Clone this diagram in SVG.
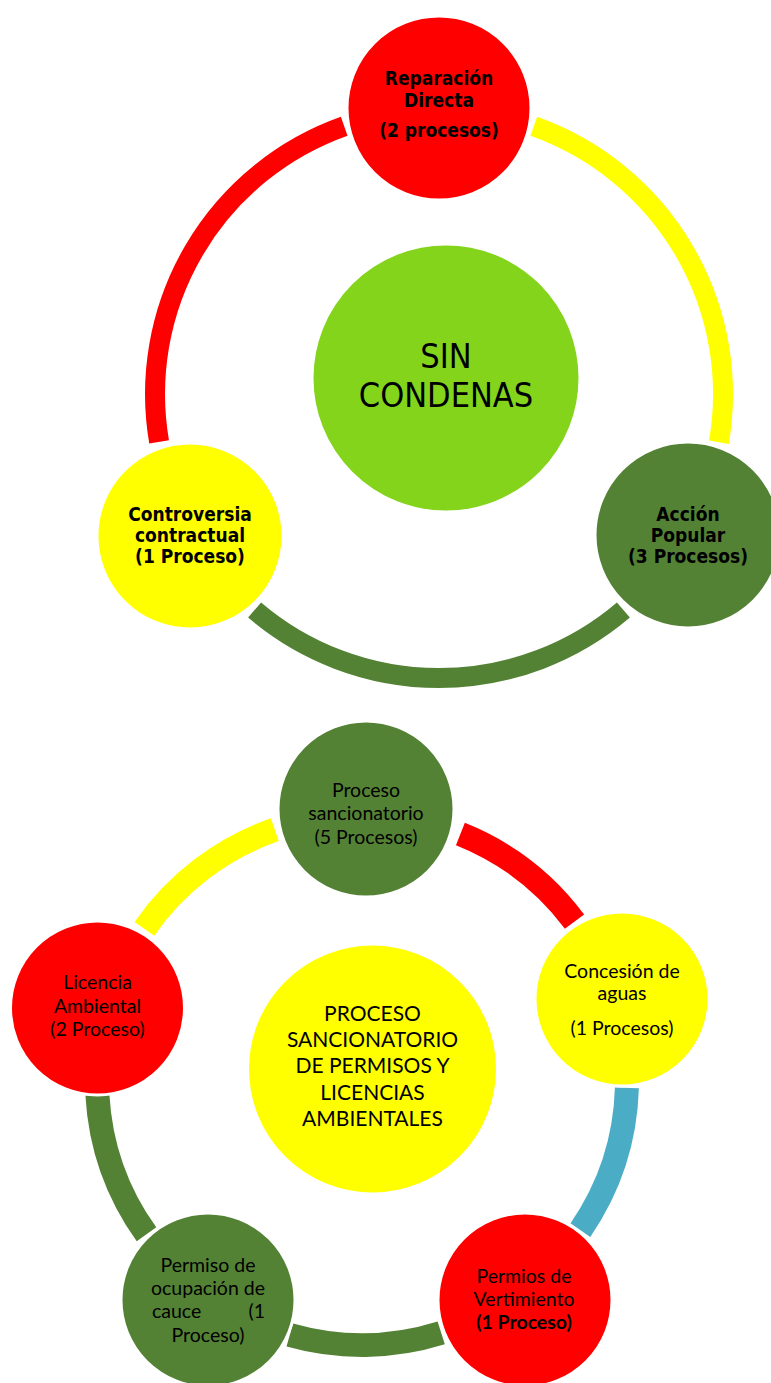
<svg xmlns="http://www.w3.org/2000/svg" width="771" height="1383" viewBox="0 0 771 1383">
<style>
.arc{fill:none;stroke-linecap:butt}
.t1{font-family:"DejaVu Sans Condensed","DejaVu Sans",sans-serif;font-stretch:condensed;font-weight:bold;font-size:19px;fill:#000;text-anchor:middle}
.t2{font-family:Lato,"Liberation Sans",sans-serif;font-size:19.5px;fill:#000;text-anchor:middle}
.t3{font-family:Lato,"Liberation Sans",sans-serif;font-size:21px;fill:#000;text-anchor:middle}
.node{stroke:#fff;stroke-width:3}
</style>
<rect width="771" height="1383" fill="#fff"/>
<g id="connectors">
<path class="arc" stroke="#FF0000" stroke-width="20" d="M159.1,441.9 A284,284 0 0 1 344.2,126.3"/>
<path class="arc" stroke="#FFFF00" stroke-width="20" d="M533.8,126.3 A284,284 0 0 1 718.9,442.3"/>
<path class="arc" stroke="#548235" stroke-width="20" d="M623.4,610 A284,284 0 0 1 254.6,610"/>
<path class="arc" stroke="#FFFF00" stroke-width="24" d="M144.4,928.8 A265,265 0 0 1 274.8,829.7"/>
<path class="arc" stroke="#FF0000" stroke-width="24" d="M460.4,834 A265,265 0 0 1 574.5,921.6"/>
<path class="arc" stroke="#4BACC6" stroke-width="24" d="M626.9,1087.9 A265,265 0 0 1 580.4,1230.1"/>
<path class="arc" stroke="#548235" stroke-width="24" d="M441.2,1332.9 A265,265 0 0 1 289.8,1335"/>
<path class="arc" stroke="#548235" stroke-width="24" d="M146.5,1234.3 A265,265 0 0 1 97.4,1094.8"/>
</g>
<g id="sin-condenas">
<circle cx="446" cy="378" r="134" fill="#84D41C" class="node"/>
<text x="446" y="368" font-family="'DejaVu Sans Condensed','DejaVu Sans',sans-serif" font-stretch="condensed" font-size="34" text-anchor="middle" fill="#000">SIN</text>
<text x="446" y="407" font-family="'DejaVu Sans Condensed','DejaVu Sans',sans-serif" font-stretch="condensed" font-size="34" text-anchor="middle" fill="#000">CONDENAS</text>
</g>
<g id="reparacion-directa">
<circle cx="439" cy="108" r="92" fill="#FF0000" class="node"/>
<text class="t1" x="439" y="85">Reparación</text>
<text class="t1" x="439" y="107">Directa</text>
<text class="t1" x="439" y="137">(2 procesos)</text>
</g>
<g id="controversia-contractual">
<circle cx="190" cy="536" r="93" fill="#FFFF00" class="node"/>
<text class="t1" x="190" y="521">Controversia</text>
<text class="t1" x="190" y="542">contractual</text>
<text class="t1" x="190" y="563">(1 Proceso)</text>
</g>
<g id="accion-popular">
<circle cx="688" cy="535" r="93" fill="#548235" class="node"/>
<text class="t1" x="688" y="521">Acción</text>
<text class="t1" x="688" y="542">Popular</text>
<text class="t1" x="688" y="563">(3 Procesos)</text>
</g>
<g id="proceso-central">
<circle cx="372.5" cy="1069" r="125" fill="#FFFF00" class="node"/>
<text class="t3" x="372.5" y="1021">PROCESO</text>
<text class="t3" x="372.5" y="1047">SANCIONATORIO</text>
<text class="t3" x="372.5" y="1073">DE PERMISOS Y</text>
<text class="t3" x="372.5" y="1100">LICENCIAS</text>
<text class="t3" x="372.5" y="1126">AMBIENTALES</text>
</g>
<g id="proceso-sancionatorio">
<circle cx="366" cy="809" r="88" fill="#548235" class="node"/>
<text class="t2" x="366" y="797">Proceso</text>
<text class="t2" x="366" y="820">sancionatorio</text>
<text class="t2" x="366" y="844">(5 Procesos)</text>
</g>
<g id="concesion-aguas">
<circle cx="622" cy="999" r="87" fill="#FFFF00" class="node"/>
<text class="t2" x="622" y="978">Concesión de</text>
<text class="t2" x="622" y="1000">aguas</text>
<text class="t2" x="622" y="1035">(1 Procesos)</text>
</g>
<g id="permiso-vertimiento">
<circle cx="525" cy="1300" r="87" fill="#FF0000" class="node"/>
<text class="t2" x="524" y="1283">Permios de</text>
<text class="t2" x="524" y="1306">Vertimiento</text>
<text class="t2" x="524" y="1329" font-weight="bold">(1 Proceso)</text>
</g>
<g id="permiso-ocupacion">
<circle cx="208" cy="1300" r="87" fill="#548235" class="node"/>
<text class="t2" x="208" y="1272">Permiso de</text>
<text class="t2" x="208" y="1295">ocupación de</text>
<text class="t2" y="1318"><tspan x="152" text-anchor="start">cauce</tspan><tspan x="265" text-anchor="end">(1</tspan></text>
<text class="t2" x="208" y="1342">Proceso)</text>
</g>
<g id="licencia-ambiental">
<circle cx="97.5" cy="1008" r="87" fill="#FF0000" class="node"/>
<text class="t2" x="97.5" y="989">Licencia</text>
<text class="t2" x="97.5" y="1013">Ambiental</text>
<text class="t2" x="97.5" y="1036">(2 Proceso)</text>
</g>
</svg>
